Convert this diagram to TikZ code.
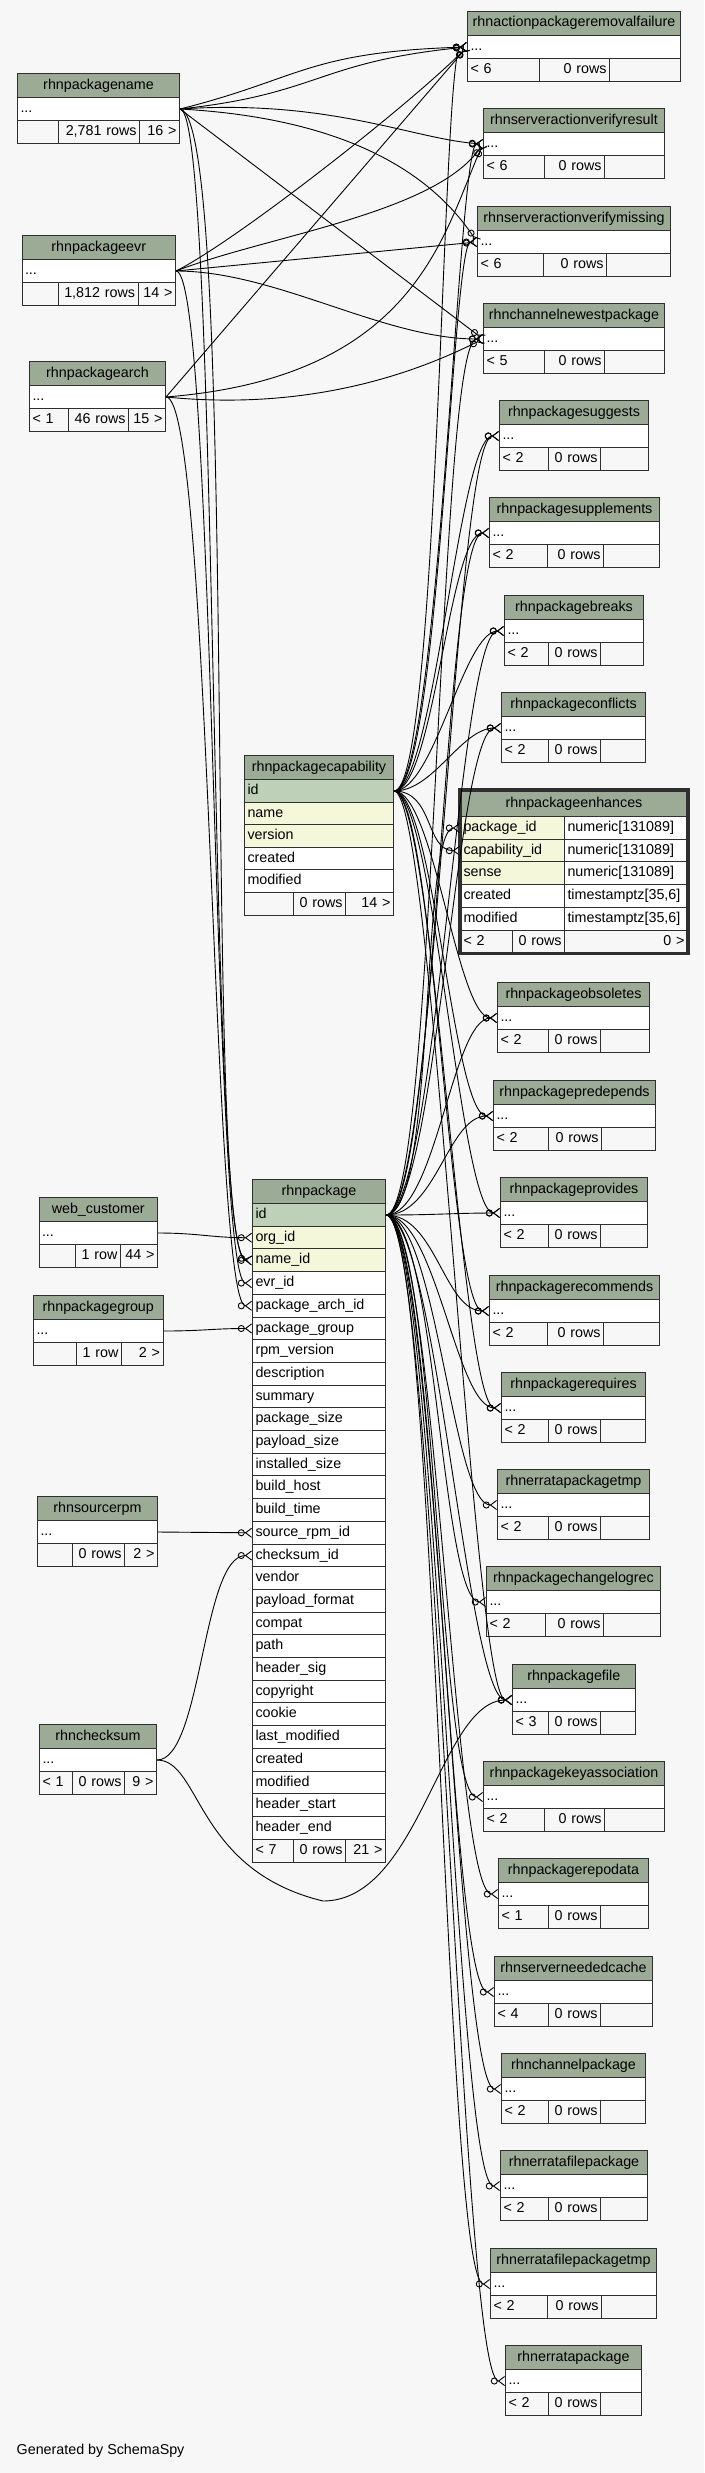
\documentclass[tikz,border=0pt]{standalone}
\usepackage{fontspec}
\setmainfont{Liberation Sans}
\usetikzlibrary{arrows.meta}
\definecolor{hdrgreen}{HTML}{9BAB96}
\definecolor{pkgreen}{HTML}{BED1B8}
\definecolor{fkyellow}{HTML}{F4F7DA}
\definecolor{bggray}{HTML}{F7F7F7}
\definecolor{tblline}{HTML}{2F2F2F}

\begin{document}
\begin{tikzpicture}[x=1pt, y=-1pt, font=\fontsize{14.3}{17}\selectfont,
  tblhead/.style={draw=tblline, fill=hdrgreen, line width=1pt, minimum height=24pt, inner sep=0pt, anchor=north west, text height=10.5pt, text depth=3.5pt},
  tblcell/.style={draw=tblline, line width=1pt, minimum height=23pt, inner xsep=3pt, inner ysep=0pt, anchor=north west, text height=10.5pt, text depth=3.5pt},
  fkline/.style={line width=0.9pt, -{Circle[open,length=7pt] Straight Barb[reversed,length=6pt,width=9pt]}}]
\fill[bggray] (0,0) rectangle (704,2473);
\useasboundingbox (0,0) rectangle (704,2473);
% Small tables: header, ... row, footer
\foreach \id/\ttl/\xl/\xr/\yt/\ca/\cb/\fa/\fb/\fc in {
  pname/rhnpackagename/17/179/73/58/139//{2,781 rows}/16 >,
  pevr/rhnpackageevr/21.5/175/235/57.5/137.5//{1,812 rows}/14 >,
  parch/rhnpackagearch/29/165/361/68/128/< 1/46 rows/15 >,
  wc/web\_customer/38.5/157/1197/74.5/120//1 row/44 >,
  pgrp/rhnpackagegroup/33/162.5/1295/76/121//1 row/2 >,
  srpm/rhnsourcerpm/37/157/1496/72/124//0 rows/2 >,
  cks/rhnchecksum/39/156/1724/72/124/< 1/0 rows/9 >,
  rf/rhnactionpackageremovalfailure/467/680/11/539/609/< 6/0 rows/,
  vr/rhnserveractionverifyresult/483/664/108/544/604/< 6/0 rows/,
  vm/rhnserveractionverifymissing/477/670/206/543/606/< 6/0 rows/,
  cnp/rhnchannelnewestpackage/483/664/303/544/604/< 5/0 rows/,
  sug/rhnpackagesuggests/499/648/400/548/600/< 2/0 rows/,
  sup/rhnpackagesupplements/489/659/497/547/603/< 2/0 rows/,
  brk/rhnpackagebreaks/504/643/595/548/600/< 2/0 rows/,
  cfl/rhnpackageconflicts/501/645/692/548/600/< 2/0 rows/,
  obs/rhnpackageobsoletes/497/649/982/548/600/< 2/0 rows/,
  pre/rhnpackagepredepends/493/655/1080/548/601/< 2/0 rows/,
  prv/rhnpackageprovides/500/647/1177/548/600/< 2/0 rows/,
  rec/rhnpackagerecommends/489/659/1275/547/603/< 2/0 rows/,
  req/rhnpackagerequires/501/645/1372/548/600/< 2/0 rows/,
  ept/rhnerratapackagetmp/497/649/1469/548/600/< 2/0 rows/,
  clr/rhnpackagechangelogrec/486/660/1566/545/603/< 2/0 rows/,
  pf/rhnpackagefile/512/634.5/1664/548/600/< 3/0 rows/,
  ka/rhnpackagekeyassociation/483/664/1761/544/604/< 2/0 rows/,
  rd/rhnpackagerepodata/498/648/1858/548/600/< 1/0 rows/,
  snc/rhnserverneededcache/494/652/1956/548/600/< 4/0 rows/,
  cp/rhnchannelpackage/501/645/2053/548/600/< 2/0 rows/,
  efp/rhnerratafilepackage/500/647/2150/548/600/< 2/0 rows/,
  eft/rhnerratafilepackagetmp/490/656/2248/546.5/601/< 2/0 rows/,
  ep/rhnerratapackage/505/641/2345/548/600/< 2/0 rows/}
{
  \pgfmathsetmacro\tblw{\xr-\xl}
  \pgfmathsetmacro\roww{\xr-\xl-6}
  \pgfmathsetmacro\wfa{\ca-\xl-6}
  \pgfmathsetmacro\wfb{\cb-\ca-6}
  \pgfmathsetmacro\wfc{\xr-\cb-6}
  \node[tblhead, minimum width=\tblw pt] (\id) at (\xl,\yt) {\ttl};
  \node[tblcell, fill=white, text width=\roww pt] (\id-r) at (\xl,\yt+24) {...};
  \node[tblcell, fill=bggray, text width=\wfa pt] (\id-f1) at (\xl,\yt+47) {\fa};
  \node[tblcell, fill=bggray, text width=\wfb pt, align=right] (\id-f2) at (\ca,\yt+47) {\fb};
  \node[tblcell, fill=bggray, text width=\wfc pt, align=right] (\id-f3) at (\cb,\yt+47) {\fc};
}
% rhnpackagecapability
\node[tblhead, minimum width=149pt] (pcap) at (244,755) {rhnpackagecapability};
\foreach \n/\t/\c [count=\i from 0] in {id/id/pkgreen, name/name/fkyellow, ver/version/fkyellow, cre/created/white, mod/modified/white}
  \node[tblcell, fill=\c, text width=143pt] (pcap-\n) at (244,779+22.6*\i) {\t};
\node[tblcell, fill=bggray, text width=43pt] (pcap-f1) at (244,892) {};
\node[tblcell, fill=bggray, text width=46pt, align=right] (pcap-f2) at (293,892) {0 rows};
\node[tblcell, fill=bggray, text width=42pt, align=right] (pcap-f3) at (345,892) {14 >};
% rhnpackageenhances
\node[tblhead, minimum width=227pt, minimum height=26pt] (enh) at (460,790) {rhnpackageenhances};
\foreach \n/\t/\ty/\c [count=\i from 0] in {pkg/package\_id/numeric[131089]/fkyellow, cap/capability\_id/numeric[131089]/fkyellow, sense/sense/numeric[131089]/fkyellow, cre/created/{timestamptz[35,6]}/white, mod/modified/{timestamptz[35,6]}/white}
{
  \node[tblcell, fill=\c, text width=98pt] (enh-\n) at (460,816+22.7*\i) {\t};
  \node[tblcell, fill=white, text width=117pt] (enh-\n-t) at (564,816+22.7*\i) {\ty};
}
\node[tblcell, fill=bggray, text width=46pt] (enh-f1) at (460,929.5) {< 2};
\node[tblcell, fill=bggray, text width=46pt, align=right] (enh-f2) at (512,929.5) {0 rows};
\node[tblcell, fill=bggray, text width=117pt, align=right] (enh-f3) at (564,929.5) {0 >};
\draw[tblline, line width=3.5pt] (enh.north west) rectangle (enh-f3.south east);
% rhnpackage
\node[tblhead, minimum width=133pt] (pkg) at (252,1179) {rhnpackage};
\foreach \n/\t/\c [count=\i from 0] in {id/id/pkgreen, org/org\_id/fkyellow, name/name\_id/fkyellow, evr/evr\_id/white, arch/package\_arch\_id/white, grp/package\_group/white, rpmv/rpm\_version/white, desc/description/white, sum/summary/white, psize/package\_size/white, plsize/payload\_size/white, isize/installed\_size/white, bhost/build\_host/white, btime/build\_time/white, srpm/source\_rpm\_id/white, cks/checksum\_id/white, vend/vendor/white, plfmt/payload\_format/white, compat/compat/white, path/path/white, hsig/header\_sig/white, copy/copyright/white, cookie/cookie/white, lmod/last\_modified/white, cre/created/white, mod/modified/white, hstart/header\_start/white, hend/header\_end/white}
  \node[tblcell, fill=\c, text width=127pt] (pkg-\n) at (252,1203+22.7*\i) {\t};
\node[tblcell, fill=bggray, text width=35pt] (pkg-f1) at (252,1838.6) {< 7};
\node[tblcell, fill=bggray, text width=46pt, align=right] (pkg-f2) at (293,1838.6) {0 rows};
\node[tblcell, fill=bggray, text width=34pt, align=right] (pkg-f3) at (345,1838.6) {21 >};
% Foreign keys from the top left tables
\draw[fkline] (pname-r.east) .. controls +(120,-30) and +(-160,5) .. (rf-r.west);
\draw[fkline] (pname-r.east) .. controls +(140,-15) and +(-150,15) .. (rf-r.west);
\draw[fkline] (pname-r.east) .. controls +(150,-10) and +(-70,-5) .. (vr-r.west);
\draw[fkline] (pname-r.east) .. controls +(180,10) and +(-40,-60) .. (vm-r.west);
\draw[fkline] (pname-r.east) -- (cnp-r.west);
\draw[fkline] (pname-r.east) .. controls +(40,0) and +(-45,0) .. (pkg-name.west);
\draw[fkline] (pname-r.east) .. controls +(60,10) and +(-50,-10) .. (pkg-name.west);
\draw[fkline] (pevr-r.east) .. controls +(60,-30) and +(-60,60) .. (rf-r.west);
\draw[fkline] (pevr-r.east) .. controls +(90,-35) and +(-50,70) .. (vr-r.west);
\draw[fkline] (pevr-r.east) -- (vm-r.west);
\draw[fkline] (pevr-r.east) .. controls +(100,0) and +(-100,0) .. (cnp-r.west);
\draw[fkline] (pevr-r.east) .. controls +(40,0) and +(-40,0) .. (pkg-evr.west);
\draw[fkline] (parch-r.east) -- (rf-r.west);
\draw[fkline] (parch-r.east) .. controls +(250,-20) and +(-40,90) .. (vr-r.west);
\draw[fkline] (parch-r.east) .. controls +(150,15) and +(-60,30) .. (cnp-r.west);
\draw[fkline] (parch-r.east) .. controls +(45,0) and +(-40,0) .. (pkg-arch.west);
% Foreign keys from the bottom left tables
\draw[fkline] (wc-r.east) .. controls +(40,0) and +(-40,0) .. (pkg-org.west);
\draw[fkline] (pgrp-r.east) .. controls +(40,0) and +(-40,0) .. (pkg-grp.west);
\draw[fkline] (srpm-r.east) -- (pkg-srpm.west);
\draw[fkline] (cks-r.east) .. controls +(45,0) and +(-50,0) .. (pkg-cks.west);
\draw[fkline] (cks-r.east) .. controls +(44,0) and +(-128,-31) .. (323,1901) .. controls +(97,0) and +(-72,0) .. (pf-r.west);
% Foreign keys to rhnpackagecapability.id
\foreach \t in {rf, vr, vm}
  \draw[fkline] (pcap-id.east) .. controls +(45,0) and +(-25,0) .. (\t-r.west);
\foreach \t in {sug, sup, brk, cfl, obs, pre, prv, rec, req, pf}
  \draw[fkline] (pcap-id.east) .. controls +(40,0) and +(-40,0) .. (\t-r.west);
\draw[fkline] (pcap-id.east) .. controls +(40,0) and +(-35,0) .. (enh-cap.west);
% Foreign keys to rhnpackage.id
\foreach \t in {cnp, sug, sup, brk, cfl, obs, pre, prv, rec, req, ept, clr, pf, ka, rd, snc, cp, efp, eft, ep}
  \draw[fkline] (pkg-id.east) .. controls +(50,0) and +(-45,0) .. (\t-r.west);
\draw[fkline] (pkg-id.east) .. controls +(50,0) and +(-40,0) .. (enh-pkg.west);
\node[anchor=west, inner sep=0pt] (gen) at (16.5,2451) {Generated by SchemaSpy};
\end{tikzpicture}
\end{document}
